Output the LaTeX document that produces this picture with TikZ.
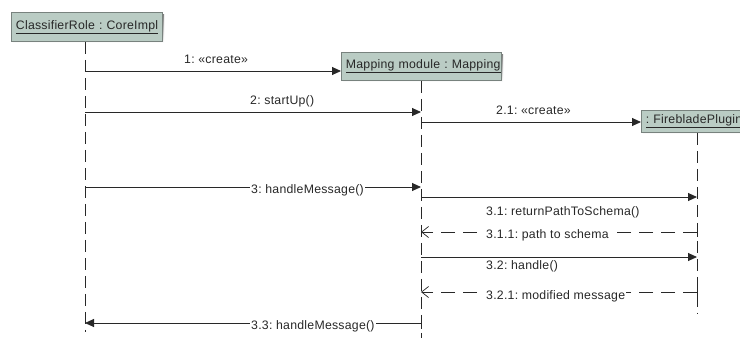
\documentclass[tikz,border=0pt]{standalone}
\usepackage{fontspec}
\setmainfont{Liberation Sans}[LetterSpace=2]
\usetikzlibrary{arrows.meta}
\definecolor{boxfill}{RGB}{186,204,196}
\definecolor{boxedge}{RGB}{120,130,126}
\definecolor{ink}{RGB}{40,40,40}
\definecolor{shade}{RGB}{215,215,215}
\frenchspacing
\begin{document}
\begin{tikzpicture}[x=1pt,y=-1pt,
  font=\fontsize{12.3}{14}\selectfont,
  role/.style={draw=boxedge, fill=boxfill, line width=0.8pt, text=ink,
    inner xsep=4.5pt, inner ysep=0pt, anchor=north west, align=left,
    minimum height=#1},
  lifeline/.style={draw=ink, line width=1pt, dash pattern=on 12pt off 6pt},
  call/.style={draw=ink, line width=0.9pt, -{Triangle[length=9pt,width=8pt]}},
  reply/.style={draw=ink, line width=0.8pt, dash pattern=on 14pt off 8pt,
    -{Straight Barb[length=7pt,width=11pt,line width=0.7pt]}},
  msg/.style={text=ink, inner sep=1pt},
  onwire/.style={msg, fill=white, anchor=west}]
\useasboundingbox (0,0) rectangle (740,338);
\clip (0,0) rectangle (740,338);

% object boxes with their soft shadows
\fill[shade] (13,14) rectangle (164,43);
\node[role=29pt, text width=142pt] (cr) at (11,12) {\underline{ClassifierRole : CoreImpl}};
\fill[shade] (343,54) rectangle (503,82);
\node[role=28pt, text width=151pt] (mm) at (341,52) {\underline{Mapping module : Mapping}};
\fill[shade] (643,112) rectangle (760,134);
\node[role=22pt, text width=120pt] (fp) at (641,110) {\underline{: FirebladePlugin}};

% lifelines
\coordinate (crEnd) at (85,332);
\coordinate (mmEnd) at (421,338);
\coordinate (fpEnd) at (697,314);
\draw[lifeline] (cr.south -| crEnd) -- (crEnd);
\draw[lifeline] (mm.south -| mmEnd) -- (mmEnd);
\draw[lifeline] (fp.south -| fpEnd) -- (fpEnd);

% 1: create
\draw[call] (crEnd |- 0,71) -- (mm.west |- 0,71);
\node[msg, anchor=west] (m1) at (183,59) {1: «create»};
% 2: startUp
\draw[call] (crEnd |- 0,112) -- (mmEnd |- 0,112);
\node[msg, anchor=west] (m2) at (249,101) {2: startUp()};
% 2.1: create
\draw[call] (mmEnd |- 0,122) -- (fp.west |- 0,122);
\node[msg, anchor=west] (m21) at (495,110) {2.1: «create»};
% 3: handleMessage
\draw[call] (crEnd |- 0,187) -- (mmEnd |- 0,187);
\node[onwire] (m3) at (250,190) {3: handleMessage()};
% 3.1: returnPathToSchema
\draw[call] (mmEnd |- 0,197) -- (fpEnd |- 0,197);
\node[msg, anchor=west] (m31) at (485,212) {3.1: returnPathToSchema()};
% 3.1.1: reply
\draw[reply] (fpEnd |- 0,232) -- (mmEnd |- 0,232);
\draw[draw=ink, line width=0.8pt] (fpEnd |- 0,227) -- (fpEnd |- 0,237);
\node[onwire] (m311) at (485,235) {3.1.1: path to schema};
% 3.2: handle
\draw[call] (mmEnd |- 0,257) -- (fpEnd |- 0,257);
\node[onwire] (m32) at (485,266) {3.2: handle()};
% 3.2.1: reply
\draw[reply] (fpEnd |- 0,292) -- (mmEnd |- 0,292);
\draw[draw=ink, line width=0.8pt] (fpEnd |- 0,287) -- (fpEnd |- 0,297);
\node[onwire] (m321) at (485,296) {3.2.1: modified message};
% 3.3: handleMessage back
\draw[call] (mmEnd |- 0,323) -- (crEnd |- 0,323);
\draw[draw=ink, line width=0.8pt] (mmEnd |- 0,317) -- (mmEnd |- 0,329);
\node[onwire] (m33) at (250,326) {3.3: handleMessage()};
\end{tikzpicture}
\end{document}
